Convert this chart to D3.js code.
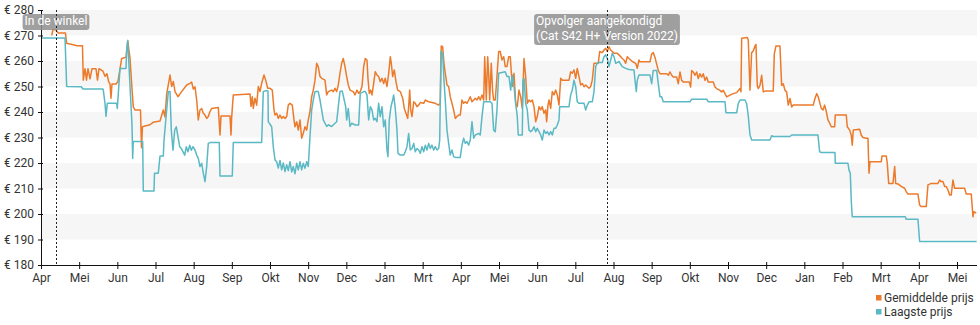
<!DOCTYPE html>
<html><head><meta charset="utf-8">
<script src="https://cdn.jsdelivr.net/npm/d3@7"></script>
<style>body{margin:0;background:#fff} svg{display:block;font-family:Roboto,sans-serif}</style>
</head><body><svg id="c" width="980" height="325"></svg>
<script>
// Month ticks (index = months since April, year 1) and their labels as shown in the original
const maandLabels = ["Apr","Mei","Jun","Jul","Aug","Sep","Okt","Nov","Dec","Jan","Mrt","Apr","Mei","Jun","Jul","Aug","Sep","Okt","Nov","Dec","Jan","Feb","Mrt","Apr","Mei"];
const prijsTicks = [180,190,200,210,220,230,240,250,260,270,280];
const bandStarts = [190,210,230,250,270];

// [months since start, price in €]
const gemiddeldePrijs = [[0.280,270],[0.314,272.4],[0.393,272.2],[0.445,271],[0.642,271],[0.668,267],[0.812,266.5],[0.943,266],[1.087,266],[1.108,252.5],[1.153,257],[1.192,252.5],[1.231,257],[1.284,253],[1.336,257],[1.441,257],[1.480,252.5],[1.520,257],[1.624,256],[1.677,254],[1.729,255],[1.769,252],[1.808,251],[1.834,245.4],[1.860,251],[1.965,251],[2.017,252],[2.114,261],[2.227,261.5],[2.272,268],[2.332,261],[2.376,251],[2.418,242],[2.463,240.8],[2.607,240.8],[2.633,226],[2.659,234.2],[2.725,234.5],[2.856,235],[2.942,236],[3.118,236.5],[3.204,240.8],[3.249,238],[3.293,247],[3.380,254.5],[3.424,250],[3.466,252],[3.511,248],[3.589,246],[3.686,248],[3.817,250.6],[3.904,251.2],[3.948,251.7],[3.990,249],[4.035,249.9],[4.079,244.7],[4.121,236.9],[4.166,240.8],[4.210,241.4],[4.252,239.5],[4.297,238.8],[4.341,237.5],[4.383,238.2],[4.428,240.2],[4.472,241.4],[4.645,241.8],[4.690,231],[4.716,238.4],[4.952,238.4],[4.978,231],[4.996,238],[5.038,246.7],[5.476,247.1],[5.502,242.2],[5.536,246],[5.562,241.4],[5.607,245.4],[5.651,242.7],[5.693,250],[5.738,248],[5.782,251.3],[5.843,254.5],[5.887,252.5],[5.940,249.3],[6.000,249.3],[6.060,248.6],[6.105,240.8],[6.131,238.8],[6.175,239.5],[6.217,237.5],[6.262,238.8],[6.306,237.5],[6.348,238.2],[6.393,237.5],[6.437,238.2],[6.479,242.7],[6.524,243.4],[6.584,242.7],[6.629,236.9],[6.655,234.2],[6.699,236.2],[6.741,232.9],[6.786,236.9],[6.830,229.7],[6.872,231.7],[6.917,234.2],[6.961,232.9],[7.003,236.9],[7.048,240.2],[7.092,246],[7.134,248.6],[7.179,252.5],[7.223,259.1],[7.265,257.8],[7.310,253.9],[7.354,253.2],[7.441,252.5],[7.485,246.7],[7.527,248],[7.616,248.6],[7.658,248],[7.703,249.3],[7.747,248],[7.789,250.6],[7.834,255.2],[7.878,259.1],[7.920,261],[7.965,257.8],[8.009,253.9],[8.051,250.6],[8.096,248.6],[8.182,248],[8.227,246.7],[8.279,248.6],[8.323,247.3],[8.365,248],[8.410,250],[8.455,257.8],[8.497,261],[8.541,260.4],[8.567,253.2],[8.601,247.3],[8.638,248.6],[8.672,246.7],[8.716,251.2],[8.758,255.8],[8.803,254.5],[8.847,253.9],[8.889,251.9],[8.934,253.2],[8.978,251.2],[9.020,253.2],[9.065,250],[9.110,255.2],[9.152,261.7],[9.178,259.1],[9.214,253.9],[9.256,256.5],[9.301,251.9],[9.345,248.6],[9.413,248],[9.477,245.4],[9.518,241.4],[9.563,239.5],[9.607,237.5],[9.633,242],[9.660,248.6],[9.686,240.8],[9.720,238.2],[9.765,244],[9.807,243.4],[9.851,242.1],[9.896,242.7],[9.938,243.7],[10.027,243.4],[10.069,244.7],[10.158,244],[10.244,243.7],[10.330,243.4],[10.419,242.7],[10.461,243.4],[10.487,265.9],[10.524,265.6],[10.558,259.1],[10.592,255.2],[10.637,250.6],[10.681,250],[10.723,246],[10.768,243.4],[10.812,240.8],[10.854,237.5],[10.899,238.2],[10.943,238.8],[10.985,238.8],[11.030,244.7],[11.075,243.4],[11.116,244],[11.161,243.4],[11.206,244.7],[11.247,246],[11.292,244],[11.337,244.7],[11.378,245.4],[11.423,244.7],[11.468,246],[11.509,244.7],[11.554,246.7],[11.599,244.7],[11.625,261.7],[11.667,244.7],[11.703,261.7],[11.730,254.5],[11.756,244.7],[11.797,259.1],[11.834,248],[11.860,244.7],[11.902,244.7],[11.947,253.9],[11.991,263.7],[12.033,263.7],[12.078,260.4],[12.123,261.7],[12.164,257.8],[12.209,257.8],[12.254,261.7],[12.295,261.7],[12.348,250],[12.393,255.2],[12.437,243.4],[12.479,242.1],[12.524,248.6],[12.568,246],[12.610,241.4],[12.655,261],[12.699,253.9],[12.741,243.4],[12.786,244.7],[12.830,244],[12.872,244.7],[12.917,242.1],[12.961,236.2],[13.003,238.2],[13.048,242.1],[13.092,240.8],[13.134,242.1],[13.179,239.5],[13.223,240.8],[13.249,236.2],[13.283,242.7],[13.310,244.7],[13.354,241.4],[13.396,248],[13.441,246.7],[13.485,248.6],[13.527,246.7],[13.572,242.7],[13.616,253.2],[13.658,252.5],[13.834,252.5],[13.878,255.8],[13.920,255.2],[13.965,256.5],[14.009,253.2],[14.051,257.1],[14.096,253.9],[14.140,250.6],[14.182,251.2],[14.227,249.9],[14.271,250.6],[14.358,249.3],[14.402,250],[14.444,252.5],[14.489,259.1],[14.601,259.1],[14.638,263.7],[14.706,263.3],[14.751,264.3],[14.795,265],[14.837,263.7],[14.882,265.6],[14.926,264.3],[14.968,263.7],[15.013,263],[15.099,263],[15.144,262.4],[15.230,261],[15.275,260.4],[15.319,259.1],[15.361,261.7],[15.406,261],[15.450,260.4],[15.492,259.8],[15.581,259.1],[15.623,257.1],[15.668,260.4],[15.694,259.7],[15.956,259.7],[16.000,262.7],[16.042,263.3],[16.087,261.4],[16.131,258.8],[16.173,256.3],[16.218,255],[16.393,255],[16.435,254.4],[16.480,255.7],[16.524,254.4],[16.566,253.7],[16.655,253.7],[16.697,251.1],[16.742,255.7],[16.786,252.4],[16.828,251.8],[16.985,251.8],[17.022,249.8],[17.048,256.3],[17.090,255.7],[17.135,254.4],[17.179,255.7],[17.221,253.1],[17.266,255],[17.310,253.7],[17.352,255],[17.397,252.4],[17.441,253.7],[17.483,251.8],[17.614,251.8],[17.659,249.8],[17.703,249.2],[17.790,248.5],[17.834,247.9],[17.876,248.5],[17.921,247.2],[17.965,245.9],[18.052,246.6],[18.138,247.2],[18.227,247.6],[18.314,249.2],[18.340,247.9],[18.358,268.9],[18.505,269.2],[18.531,268.2],[18.576,248.5],[18.620,263.3],[18.662,263.9],[18.707,265.9],[18.733,266.5],[18.767,250.4],[18.793,249.2],[18.838,250.4],[18.882,254.4],[18.924,247.9],[18.969,248.2],[19.186,248.2],[19.212,262.7],[19.257,265.9],[19.361,265.9],[19.406,250.4],[19.448,251.1],[19.493,248.5],[19.537,247.9],[19.579,242.7],[19.624,245.3],[19.668,242],[19.710,242.7],[20.234,242.7],[20.279,245.3],[20.323,247.2],[20.365,245.9],[20.410,243.3],[20.444,241.4],[20.489,240.8],[20.533,242.7],[20.575,240.2],[20.619,236.9],[20.664,235.6],[20.706,234.2],[20.795,234.2],[20.810,238.8],[21.099,238.8],[21.125,234.2],[21.188,232.9],[21.230,230.9],[21.256,227],[21.282,232.9],[21.450,233.2],[21.492,230.9],[21.536,230],[21.623,229.7],[21.667,229.7],[21.694,216],[21.720,220.5],[22.016,220.5],[22.034,222.7],[22.147,222.7],[22.173,219.9],[22.210,212],[22.322,212],[22.367,218.6],[22.393,212],[22.453,211.8],[22.539,210.8],[22.628,210.1],[22.670,208.8],[22.715,207.8],[22.977,207.8],[23.021,203.5],[23.063,202.9],[23.194,202.9],[23.239,211.4],[23.325,212],[23.501,212],[23.545,213.3],[23.587,212.7],[23.632,212.7],[23.677,210.8],[23.718,210.8],[23.763,209.4],[23.808,207.5],[23.849,207.5],[23.894,213.3],[23.938,210.1],[24.200,210.1],[24.243,207.8],[24.374,207.8],[24.418,198.9],[24.444,200.9],[24.505,200.3]];

const laagstePrijs = [[0,269],[0.629,269],[0.673,250],[1.056,249.9],[1.100,249],[1.624,249],[1.632,248.6],[1.677,243.4],[1.703,238.3],[1.737,243.4],[1.983,243.4],[1.999,241.4],[2.070,257.1],[2.227,257.1],[2.245,264],[2.272,268],[2.306,258],[2.350,245],[2.384,235],[2.402,221.8],[2.418,228.4],[2.664,228.4],[2.680,209],[2.960,209],[2.974,216],[3.073,216],[3.118,222.7],[3.204,222.7],[3.223,229],[3.293,240.8],[3.335,248],[3.380,248],[3.414,232.9],[3.458,225],[3.503,232.9],[3.545,234.2],[3.589,230.3],[3.634,226.4],[3.676,225.7],[3.765,223.1],[3.807,226.4],[3.851,224.4],[3.896,227],[3.938,225],[3.982,226.4],[4.035,225.1],[4.079,223.1],[4.121,221.8],[4.166,218.6],[4.210,219.9],[4.252,216],[4.297,212.7],[4.341,218.6],[4.383,227.7],[4.428,228],[4.671,228],[4.690,214.9],[5.012,214.9],[5.038,228],[5.782,228],[5.824,248],[5.887,248.4],[5.947,248.2],[5.955,236.2],[6.044,234.2],[6.086,226.4],[6.131,221.2],[6.175,220.5],[6.217,218],[6.262,221],[6.306,217.3],[6.348,220],[6.393,216.6],[6.437,219.3],[6.479,217],[6.524,220.5],[6.568,216.5],[6.610,218.6],[6.655,215.8],[6.699,219.9],[6.741,217.3],[6.786,220.5],[6.830,217.3],[6.872,219.9],[6.917,217.9],[6.961,220.5],[7.003,218.6],[7.048,230.3],[7.092,240.8],[7.134,244.7],[7.179,248],[7.265,248],[7.310,244.7],[7.354,240.8],[7.396,236.9],[7.441,235.6],[7.485,234.3],[7.527,235],[7.616,234.3],[7.703,235.6],[7.747,236.2],[7.789,242],[7.834,248],[7.894,248.2],[7.983,242],[8.009,236.9],[8.051,241.4],[8.096,234.3],[8.140,235.6],[8.235,234.9],[8.323,234.9],[8.365,247.3],[8.455,248],[8.497,248],[8.541,246.7],[8.585,236.9],[8.628,242.1],[8.672,240.8],[8.716,236.9],[8.758,237.5],[8.803,236.2],[8.847,243.4],[8.889,238.2],[8.934,242.1],[8.978,234.2],[9.020,236.9],[9.065,225.1],[9.091,222.5],[9.125,236.9],[9.170,242.1],[9.214,244.7],[9.240,246.7],[9.282,241.4],[9.327,232.9],[9.353,223.8],[9.413,223.1],[9.502,223.1],[9.544,224.4],[9.589,226.4],[9.633,231.6],[9.675,225.1],[9.720,225.7],[9.765,227.7],[9.807,224.4],[9.851,225.7],[9.896,225.1],[9.938,223.8],[9.982,226.4],[10.027,224.4],[10.069,227],[10.113,225.1],[10.158,227.7],[10.200,225.7],[10.244,227],[10.289,225.1],[10.330,226.4],[10.375,225.1],[10.419,225.7],[10.446,229],[10.480,263.7],[10.524,263],[10.558,252.5],[10.592,244.7],[10.637,232.9],[10.681,227.7],[10.723,223.1],[10.768,225.1],[10.812,222.5],[10.854,222.2],[10.985,222.2],[11.030,227],[11.075,229.7],[11.116,227.7],[11.161,228.4],[11.206,227],[11.247,229],[11.292,236.2],[11.337,229.7],[11.378,231],[11.468,231.6],[11.509,231],[11.554,238.2],[11.599,244],[11.772,244],[11.816,243.4],[11.860,232.9],[11.902,232.3],[11.947,240.8],[11.991,255.2],[12.164,255.8],[12.209,253.9],[12.262,253.9],[12.306,248.6],[12.348,254.5],[12.393,250],[12.437,243.4],[12.479,238.2],[12.505,231],[12.610,231],[12.628,252.5],[12.655,253.2],[12.699,243.4],[12.741,240.8],[12.786,232.9],[12.830,232.3],[12.872,232.9],[12.917,234.2],[12.961,232.3],[13.003,233.6],[13.048,232.3],[13.092,231],[13.134,229],[13.179,232.9],[13.223,231.6],[13.265,232.3],[13.310,231],[13.354,232.3],[13.396,231],[13.441,233.6],[13.485,233.6],[13.527,234.9],[13.572,236.9],[13.590,242.1],[13.834,242.1],[13.878,246.7],[13.920,248.6],[13.965,252.5],[14.009,249.9],[14.051,244],[14.096,243.4],[14.227,243.4],[14.271,240.8],[14.314,242.7],[14.358,244],[14.444,244],[14.489,248],[14.533,257.8],[14.575,259.1],[14.619,259.4],[14.706,259.4],[14.751,261.7],[14.795,262.4],[14.837,261],[14.882,257.8],[14.926,260.4],[14.968,263],[15.013,261.7],[15.057,259.1],[15.144,259.8],[15.230,257.8],[15.319,257.1],[15.406,256.7],[15.536,256.5],[15.563,252.5],[15.597,248],[15.623,252.5],[15.668,254.5],[15.956,254.5],[16.000,251.1],[16.042,256.3],[16.131,256.3],[16.173,251.1],[16.218,246],[16.262,246],[16.304,244],[17.003,244],[17.048,245],[17.441,245],[17.483,244],[17.921,244],[17.947,239.7],[18.227,239.7],[18.269,243.3],[18.314,244.7],[18.445,244.7],[18.489,243.3],[18.531,238.5],[18.576,231],[18.620,229],[19.099,229],[19.144,230.7],[19.186,230.4],[19.624,230.4],[19.668,231],[20.357,231],[20.401,224.4],[20.444,224.1],[20.803,224.1],[20.810,219.9],[21.143,219.9],[21.169,217.3],[21.204,216],[21.230,205],[21.256,198.9],[22.644,198.9],[22.670,197.9],[22.977,197.9],[23.021,189.2],[24.515,189.2]];

const gebeurtenisMaand = [0.393, 14.83];
const gebeurtenisTekst = [["In de winkel"], ["Opvolger aangekondigd", "(Cat S42 H+ Version 2022)"]];
const reeksNamen = ["Gemiddelde prijs", "Laagste prijs"];
const reeksKleuren = ["#ec7a2b", "#5ab9c4"];

const svg = d3.select("#c");
const plotL = 41, plotR = 977, plotT = 10, plotB = 265;
const x = d3.scaleLinear().domain([0, 24]).range([plotL, 957]);
const y = d3.scaleLinear().domain([180, 280]).range([plotB, plotT]);

// bands
svg.append("g").selectAll("rect").data(bandStarts).join("rect")
  .attr("x", plotL).attr("width", plotR - plotL)
  .attr("y", d => y(d + 10)).attr("height", d => y(d) - y(d + 10))
  .attr("fill", "#f6f6f6");

// lines
const line = d3.line().x(d => x(d[0])).y(d => y(d[1]));
[gemiddeldePrijs, laagstePrijs].forEach((s, i) => {
  svg.append("path").datum(s).attr("d", line)
    .attr("fill", "none").attr("stroke", reeksKleuren[i])
    .attr("stroke-width", 1.5).attr("stroke-linejoin", "round");
});

// axes
const yAxis = svg.append("g").attr("transform", `translate(${plotL},0)`)
  .call(d3.axisLeft(y).tickValues(prijsTicks).tickFormat(d => "€ " + d).tickSizeInner(3).tickSizeOuter(0).tickPadding(4));
yAxis.select(".domain").attr("stroke", "#111");
yAxis.selectAll(".tick line").attr("x2", 2).attr("x1", -3).attr("stroke", "#111");
yAxis.selectAll("text").attr("font-size", 12).attr("fill", "#333").attr("font-family", "Roboto");

const xAxis = svg.append("g").attr("transform", `translate(0,${plotB})`)
  .call(d3.axisBottom(x).tickValues(d3.range(maandLabels.length)).tickFormat(i => maandLabels[i]).tickSizeOuter(0).tickPadding(2));
xAxis.select(".domain").attr("d", `M${plotL},0.5H${plotR}`).attr("stroke", "#111");
xAxis.selectAll(".tick line").attr("y1", -3).attr("y2", 4).attr("stroke", "#111");
xAxis.selectAll("text").attr("font-size", 12).attr("fill", "#333").attr("font-family", "Roboto");

// events
gebeurtenisMaand.forEach((m, i) => {
  const g = svg.append("g");
  const cx = x(m);
  const lines = gebeurtenisTekst[i];
  const box = g.append("rect").attr("rx", 3).attr("ry", 3).attr("fill", "#8f8f8f").attr("fill-opacity", 0.85);
  g.append("line").attr("x1", Math.round(cx) + 0.5).attr("x2", Math.round(cx) + 0.5)
    .attr("y1", plotT).attr("y2", plotB).attr("stroke", "#222").attr("stroke-width", 1)
    .attr("stroke-dasharray", "2,2");
  const txt = g.append("text").attr("font-size", 12).attr("fill", "#fff").attr("font-family", "Roboto");
  lines.forEach((l, j) => txt.append("tspan").attr("y", 25 + j * 15).text(l));
  const w = d3.max(txt.selectAll("tspan").nodes(), n => n.getComputedTextLength());
  const bx = cx - w / 2 - 2;
  txt.selectAll("tspan").attr("x", bx + 2);
  box.attr("x", bx).attr("width", w + 4).attr("y", 14).attr("height", lines.length * 15 + 1);
});

// legend
const lg = svg.append("g");
reeksNamen.forEach((n, i) => {
  lg.append("rect").attr("x", 876).attr("y", 295 + i * 14).attr("width", 5.5).attr("height", 5.5).attr("fill", reeksKleuren[i]);
  lg.append("text").attr("x", 884).attr("y", 301.5 + i * 14).attr("font-size", 12).attr("fill", "#333")
    .attr("font-family", "Roboto").text(n);
});
</script></body></html>
